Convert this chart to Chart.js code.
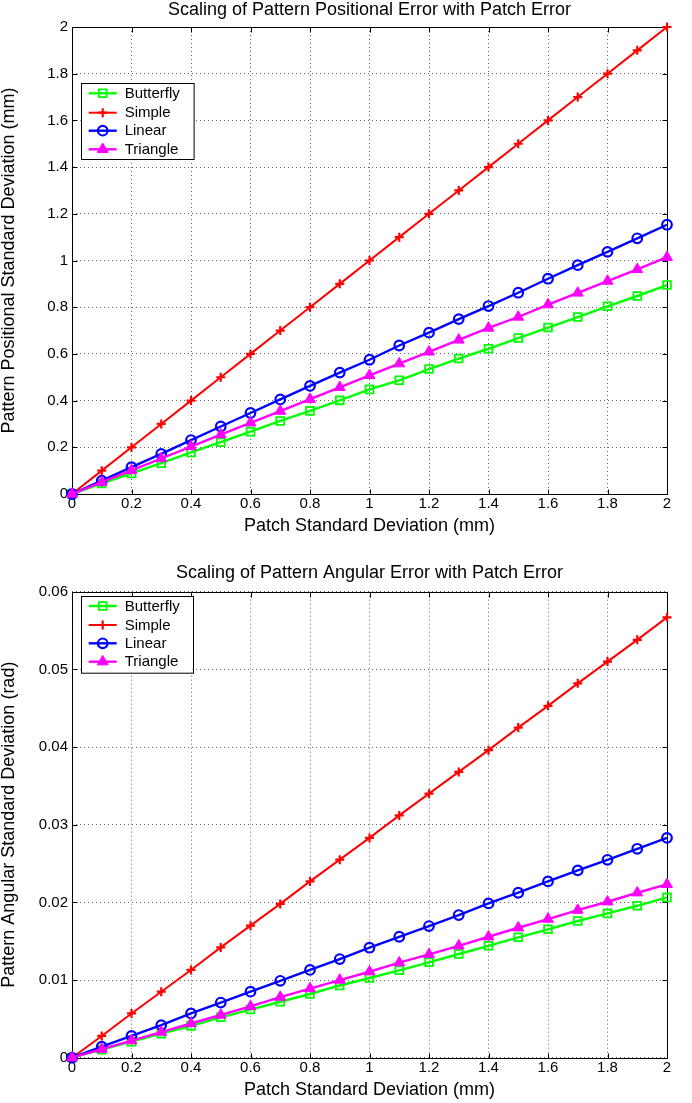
<!DOCTYPE html>
<html><head><meta charset="utf-8">
<script src="https://cdn.jsdelivr.net/npm/chart.js@4/dist/chart.umd.min.js"></script>
<style>
html,body{margin:0;padding:0;background:#fff;}
body{width:692px;height:1103px;position:relative;overflow:hidden;}
.box{position:absolute;left:0;width:692px;}
#b1{top:0;height:551px;}
#b2{top:551px;height:552px;}
canvas{display:block;}
</style></head><body>
<div class="box" id="b1"><canvas id="c1" width="692" height="551" style="width:692px;height:551px"></canvas></div>
<div class="box" id="b2"><canvas id="c2" width="692" height="552" style="width:692px;height:552px"></canvas></div>
<script>
// ---------- data ----------
const xValues = [0,0.1,0.2,0.3,0.4,0.5,0.6,0.7,0.8,0.9,1.0,1.1,1.2,1.3,1.4,1.5,1.6,1.7,1.8,1.9,2.0];
const xTickValues = [0,0.2,0.4,0.6,0.8,1,1.2,1.4,1.6,1.8,2];
const xTickLabels = ['0','0.2','0.4','0.6','0.8','1','1.2','1.4','1.6','1.8','2'];
const posTickValues = [0,0.2,0.4,0.6,0.8,1,1.2,1.4,1.6,1.8,2];
const posTickLabels = ['0','0.2','0.4','0.6','0.8','1','1.2','1.4','1.6','1.8','2'];
const angTickValues = [0,0.01,0.02,0.03,0.04,0.05,0.06];
const angTickLabels = ['0','0.01','0.02','0.03','0.04','0.05','0.06'];
const seriesNames = ['Butterfly','Simple','Linear','Triangle'];

const butterflyPos = [0,0.045,0.088,0.132,0.178,0.222,0.267,0.313,0.356,0.401,0.448,0.487,0.535,0.580,0.622,0.668,0.713,0.758,0.804,0.848,0.895];
const simplePos    = [0,0.1,0.2,0.3,0.4,0.5,0.6,0.7,0.8,0.9,1.0,1.1,1.2,1.3,1.4,1.5,1.6,1.7,1.8,1.9,2.0];
const linearPos    = [0,0.057,0.115,0.172,0.231,0.289,0.347,0.405,0.463,0.520,0.575,0.636,0.691,0.749,0.805,0.862,0.922,0.980,1.037,1.095,1.153];
const trianglePos  = [0,0.051,0.101,0.152,0.203,0.254,0.305,0.355,0.406,0.457,0.508,0.558,0.609,0.660,0.711,0.758,0.811,0.861,0.912,0.962,1.014];

const butterflyAng = [0,0.00104,0.00206,0.0031,0.0041,0.0052,0.0062,0.0072,0.0082,0.0093,0.01026,0.01125,0.01228,0.01335,0.01441,0.0155,0.01653,0.0176,0.01858,0.01956,0.02064];
const simpleAng    = [0,0.0028,0.0057,0.0085,0.0113,0.0142,0.0170,0.0198,0.0227,0.0255,0.0283,0.0312,0.0340,0.0368,0.0396,0.0425,0.0453,0.0482,0.0510,0.0538,0.0567];
const linearAng    = [0,0.00142,0.0028,0.0042,0.0057,0.0071,0.0085,0.0099,0.0113,0.0127,0.01416,0.01557,0.01695,0.01837,0.01987,0.02124,0.0227,0.02412,0.02548,0.0269,0.02831];
const triangleAng  = [0,0.0011,0.0022,0.0033,0.0044,0.0055,0.0066,0.0078,0.0089,0.0100,0.01107,0.01223,0.0133,0.01441,0.01557,0.01673,0.01785,0.0190,0.02008,0.02124,0.02232];

// ---------- styles ----------
const FONT = "'Liberation Sans', Arial, Helvetica, sans-serif";
Chart.defaults.font.family = FONT;
Chart.defaults.color = '#000';

const styles = [
  {color:'#00ff00', pointStyle:'rect', radius:5.5, pbw:1.8, fill:false, lw:2.4, order:4},
  {color:'#ff0000', pointStyle:'cross', radius:4.5, pbw:2.2, fill:false, lw:2, order:3},
  {color:'#0000ff', pointStyle:'circle', radius:4.8, pbw:2.2, fill:false, lw:2.4, order:2},
  {color:'#ff00ff', pointStyle:'triangle', radius:6.3, pbw:1, fill:true, lw:2.4, order:1}
];

function makeDatasets(seriesList){
  return seriesList.map((vals, i) => {
    const s = styles[i];
    return {
      label: seriesNames[i],
      data: xValues.map((x, k) => ({x: x, y: vals[k]})),
      borderColor: s.color,
      backgroundColor: s.color,
      borderWidth: s.lw,
      pointStyle: s.pointStyle,
      pointRadius: s.radius,
      pointHoverRadius: s.radius,
      pointBorderWidth: s.pbw,
      pointBorderColor: s.color,
      pointBackgroundColor: s.fill ? s.color : 'rgba(0,0,0,0)',
      tension: 0,
      clip: false,
      order: s.order
    };
  });
}

const framePlugin = {
  id: 'frame',
  beforeDatasetsDraw(chart, args, opts) {
    const {ctx, chartArea: a, scales} = chart;
    const x = scales.x, y = scales.y;
    ctx.save();
    ctx.strokeStyle = '#000';
    ctx.lineWidth = 1;
    const L = Math.round(a.left) + 0.5, R = Math.round(a.right) + 0.5;
    const T = Math.round(a.top) + 0.5, B = Math.round(a.bottom) + 0.5;
    ctx.strokeRect(L, T, R - L, B - T);
    const tl = 5;
    ctx.beginPath();
    x.ticks.forEach(t => {
      const px = Math.round(x.getPixelForValue(t.value)) + 0.5;
      ctx.moveTo(px, B); ctx.lineTo(px, B - tl);
      ctx.moveTo(px, T); ctx.lineTo(px, T + tl);
    });
    y.ticks.forEach(t => {
      const py = Math.round(y.getPixelForValue(t.value)) + 0.5;
      ctx.moveTo(L, py); ctx.lineTo(L + tl, py);
      ctx.moveTo(R, py); ctx.lineTo(R - tl, py);
    });
    ctx.stroke();
    ctx.restore();
  },
  afterDraw(chart, args, opts) {
    const {ctx, chartArea: a} = chart;
    ctx.save();
    ctx.fillStyle = '#000';
    ctx.font = '18px ' + FONT;
    ctx.textAlign = 'center';
    ctx.textBaseline = 'alphabetic';
    ctx.fillText(opts.title, (a.left + a.right) / 2, opts.titleBaseline);
    const lg = opts.legend;
    ctx.fillStyle = '#fff';
    ctx.fillRect(lg.x, lg.y, lg.w, lg.h);
    ctx.strokeStyle = '#000';
    ctx.lineWidth = 1;
    ctx.strokeRect(Math.round(lg.x) + 0.5, Math.round(lg.y) + 0.5, lg.w, lg.h);
    chart.data.datasets.forEach((ds, i) => {
      const cy = lg.y + lg.rows[i];
      ctx.strokeStyle = ds.borderColor;
      ctx.lineWidth = ds.borderWidth;
      ctx.beginPath();
      ctx.moveTo(lg.x + 8, cy);
      ctx.lineTo(lg.x + 36, cy);
      ctx.stroke();
      ctx.fillStyle = ds.pointBackgroundColor;
      ctx.strokeStyle = ds.pointBorderColor;
      ctx.lineWidth = ds.pointBorderWidth;
      if (Chart.helpers && Chart.helpers.drawPoint) {
        Chart.helpers.drawPoint(ctx, {pointStyle: ds.pointStyle, radius: ds.pointRadius, rotation: 0, borderWidth: ds.pointBorderWidth}, lg.x + 22, cy);
      }
      ctx.fillStyle = '#000';
      ctx.font = '15px ' + FONT;
      ctx.textAlign = 'left';
      ctx.textBaseline = 'middle';
      ctx.fillText(ds.label, lg.x + 44, cy + 0.5);
    });
    ctx.restore();
  }
};

function makeChart(canvasId, cfg) {
  return new Chart(document.getElementById(canvasId), {
    type: 'line',
    data: { datasets: makeDatasets(cfg.series) },
    options: {
      responsive: false,
      animation: false,
      devicePixelRatio: 1,
      layout: { padding: { left: 0, right: 25, top: cfg.padTop, bottom: cfg.padBottom } },
      plugins: {
        legend: { display: false },
        tooltip: { enabled: false },
        title: { display: false },
        frame: { title: cfg.title, titleBaseline: cfg.titleBaseline, legend: cfg.legend }
      },
      scales: {
        x: {
          type: 'linear', position: 'bottom', min: 0, max: 2,
          afterBuildTicks: s => { s.ticks = xTickValues.map(v => ({value: v})); },
          afterFit: s => { s.height = 41; },
          ticks: { callback: (v, i) => xTickLabels[i], font: { size: 15 }, padding: 1, maxRotation: 0, autoSkip: false, color: '#000' },
          grid: { color: '#666', lineWidth: 1, drawTicks: false },
          border: { display: false, dash: [1, 3] },
          title: { display: true, text: 'Patch Standard Deviation (mm)', font: { size: 18, lineHeight: 1 }, padding: 0, color: '#000' }
        },
        y: {
          type: 'linear', position: 'left', min: 0, max: cfg.yMax,
          afterBuildTicks: s => { s.ticks = cfg.yTicks.map(v => ({value: v})); },
          afterFit: s => { s.width = 72; },
          ticks: { callback: (v, i) => cfg.yLabels[i], font: { size: 15 }, padding: 4, autoSkip: false, color: '#000' },
          grid: { color: '#666', lineWidth: 1, drawTicks: false },
          border: { display: false, dash: [1, 3] },
          title: { display: true, text: cfg.yTitle, font: { size: 18, lineHeight: 1 }, padding: 0, color: '#000' }
        }
      }
    },
    plugins: [framePlugin]
  });
}

makeChart('c1', {
  series: [butterflyPos, simplePos, linearPos, trianglePos],
  title: 'Scaling of Pattern Positional Error with Patch Error',
  titleBaseline: 15,
  yTitle: 'Pattern Positional Standard Deviation (mm)',
  yMax: 2, yTicks: posTickValues, yLabels: posTickLabels,
  padTop: 27, padBottom: 16,
  legend: { x: 80.7, y: 83.3, w: 112.6, h: 76, rows: [10, 29.4, 47.4, 66] }
});

makeChart('c2', {
  series: [butterflyAng, simpleAng, linearAng, triangleAng],
  title: 'Scaling of Pattern Angular Error with Patch Error',
  titleBaseline: 26.7,
  yTitle: 'Pattern Angular Standard Deviation (rad)',
  yMax: 0.06, yTicks: angTickValues, yLabels: angTickLabels,
  padTop: 40.7, padBottom: 4.3,
  legend: { x: 80.7, y: 45, w: 112, h: 76.7, rows: [10, 29, 47.3, 65.7] }
});
</script>
</body></html>
